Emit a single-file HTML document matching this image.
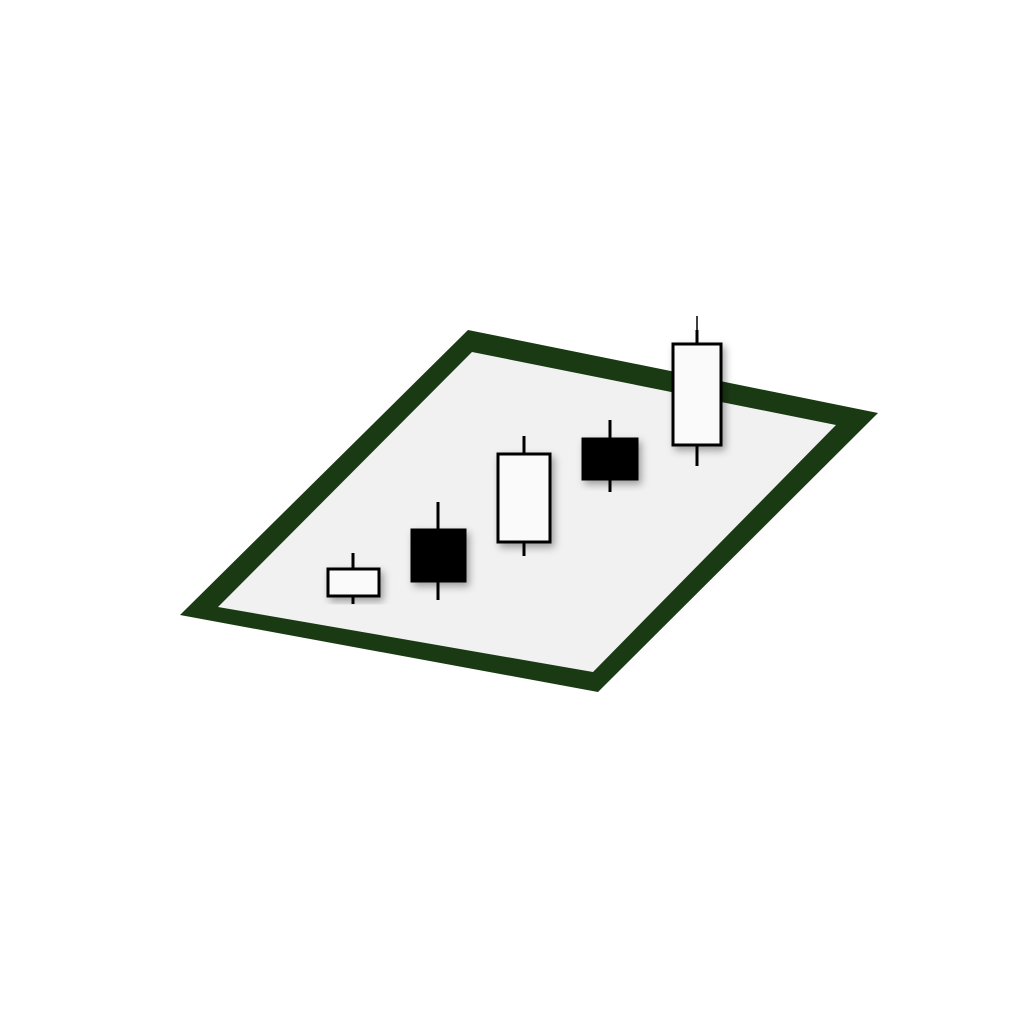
<!DOCTYPE html>
<html><head><style>body{margin:0;background:#fff}</style></head><body>
<svg width="1024" height="1024" xmlns="http://www.w3.org/2000/svg">
<defs><filter id="s" x="-30%" y="-30%" width="160%" height="160%"><feDropShadow dx="3" dy="4" stdDeviation="4" flood-opacity="0.35"/></filter></defs>
<rect width="1024" height="1024" fill="#fff"/>
<polygon points="468,330 878,413 598,692 180,615" fill="#1a3a14"/>
<polygon points="472,352 836,425 593,672 218,607" fill="#f1f1f1"/>
<g stroke="#000" stroke-width="3">
<line x1="353" y1="553" x2="353" y2="604"/>
<rect x="328" y="569" width="51" height="27" fill="#fafafa" filter="url(#s)"/>
<line x1="438" y1="502" x2="438" y2="600"/>
<rect x="412" y="530" width="53" height="51" fill="#000" filter="url(#s)"/>
<line x1="524" y1="436" x2="524" y2="556"/>
<rect x="498" y="454" width="52" height="88" fill="#fafafa" filter="url(#s)"/>
<line x1="610" y1="420" x2="610" y2="492"/>
<rect x="583" y="439" width="54" height="40" fill="#000" filter="url(#s)"/>
<line x1="697" y1="330" x2="697" y2="466"/>
<line x1="697" y1="316" x2="697" y2="344" stroke-width="1.5"/>
<rect x="673" y="344" width="48" height="101" fill="#fafafa" filter="url(#s)"/>
</g>
</svg>
</body></html>
